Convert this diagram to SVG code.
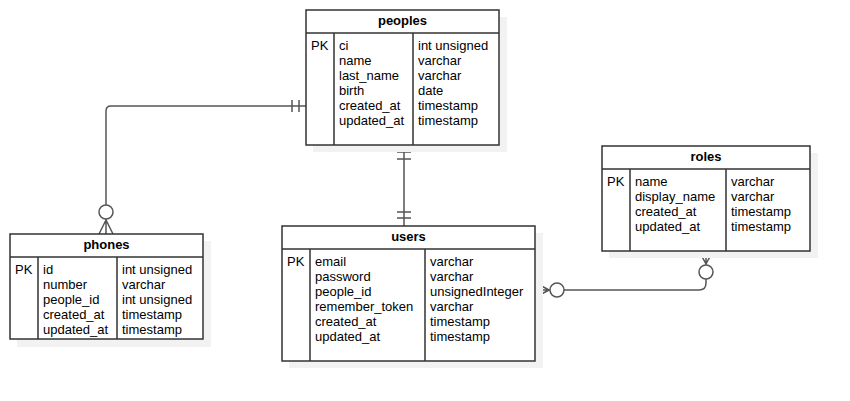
<svg xmlns="http://www.w3.org/2000/svg" width="850" height="401" viewBox="0 0 850 401">
<style>
.sh{fill:#f2f2f2;stroke:none}
.tb{fill:#fff;stroke:#333;stroke-width:1.5}
.ln{fill:none;stroke:#333;stroke-width:1.5}
.cn{fill:none;stroke:#555;stroke-width:1.5}
.ci{fill:#fff;stroke:#555;stroke-width:1.5}
text{font-family:"Liberation Sans",Arial,Helvetica,sans-serif;font-size:13px;fill:#000}
.t{font-weight:bold;text-anchor:middle}
</style>
<rect width="850" height="401" fill="#fff"/>
<g id="connectors">
  <!-- peoples - phones -->
  <path class="cn" d="M306,106 H111 Q106,106 106,111 V205"/>
  <path class="cn" d="M292,100 V112 M299,100 V112"/>
  <circle class="ci" cx="106" cy="212" r="7"/>
  <path class="cn" d="M106,219 V234 M106,220 L99,234 M106,220 L113,234"/>
  <!-- peoples - users -->
  <path class="cn" d="M404,145 V226"/>
  <path class="cn" d="M397,152 H411 M397,159 H411 M397,212 H411 M397,218 H411"/>
  <!-- users - roles -->
  <path class="cn" d="M564,290 H699 Q706,290 706,283 V279"/>
  <path class="cn" d="M535,282.5 L549,290 M535,297.5 L549,290 M535,290 H550"/>
  <circle class="ci" cx="557" cy="290" r="7"/>
  <circle class="ci" cx="706" cy="272" r="7"/>
  <path class="cn" d="M706,265 V251 M706,264 L699,251 M706,264 L713,251"/>
</g>
<g id="peoples">
  <rect class="sh" x="313" y="17" width="194" height="135"/>
  <rect class="tb" x="306" y="10" width="193" height="135"/>
  <path class="ln" d="M306,33 H499 M334,33 V145 M413,33 V145"/>
  <text class="t" x="402.5" y="25">peoples</text>
  <text x="311" y="50">PK</text>
  <text x="339" y="50">ci</text><text x="339" y="65">name</text><text x="339" y="80">last_name</text><text x="339" y="95">birth</text><text x="339" y="110">created_at</text><text x="339" y="125">updated_at</text>
  <text x="418" y="50">int unsigned</text><text x="418" y="65">varchar</text><text x="418" y="80">varchar</text><text x="418" y="95">date</text><text x="418" y="110">timestamp</text><text x="418" y="125">timestamp</text>
</g>
<g id="phones">
  <rect class="sh" x="17" y="241" width="194" height="106"/>
  <rect class="tb" x="10" y="234" width="193" height="105"/>
  <path class="ln" d="M10,257 H203 M38,257 V339 M117,257 V339"/>
  <text class="t" x="106.5" y="249">phones</text>
  <text x="15" y="274">PK</text>
  <text x="43" y="274">id</text><text x="43" y="289">number</text><text x="43" y="304">people_id</text><text x="43" y="319">created_at</text><text x="43" y="334">updated_at</text>
  <text x="122" y="274">int unsigned</text><text x="122" y="289">varchar</text><text x="122" y="304">int unsigned</text><text x="122" y="319">timestamp</text><text x="122" y="334">timestamp</text>
</g>
<g id="users">
  <rect class="sh" x="289" y="233" width="254" height="135"/>
  <rect class="tb" x="282" y="226" width="253" height="135"/>
  <path class="ln" d="M282,249 H535 M310,249 V361 M425,249 V361"/>
  <text class="t" x="408.5" y="241">users</text>
  <text x="287" y="266">PK</text>
  <text x="315" y="266">email</text><text x="315" y="281">password</text><text x="315" y="296">people_id</text><text x="315" y="311">remember_token</text><text x="315" y="326">created_at</text><text x="315" y="341">updated_at</text>
  <text x="430" y="266">varchar</text><text x="430" y="281">varchar</text><text x="430" y="296">unsignedInteger</text><text x="430" y="311">varchar</text><text x="430" y="326">timestamp</text><text x="430" y="341">timestamp</text>
</g>
<g id="roles">
  <rect class="sh" x="609" y="153" width="209" height="105"/>
  <rect class="tb" x="602" y="146" width="208" height="105"/>
  <path class="ln" d="M602,169 H810 M630,169 V251 M726,169 V251"/>
  <text class="t" x="706" y="161">roles</text>
  <text x="607" y="186">PK</text>
  <text x="635" y="186">name</text><text x="635" y="201">display_name</text><text x="635" y="216">created_at</text><text x="635" y="231">updated_at</text>
  <text x="731" y="186">varchar</text><text x="731" y="201">varchar</text><text x="731" y="216">timestamp</text><text x="731" y="231">timestamp</text>
</g>
</svg>
